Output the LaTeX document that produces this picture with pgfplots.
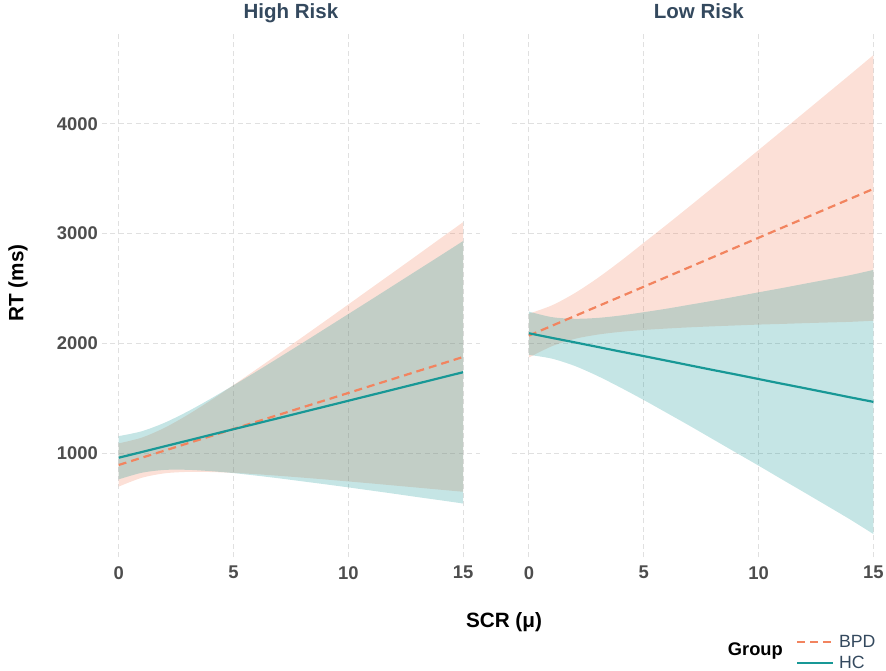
\documentclass[border=0pt]{standalone}
\usepackage{fontspec}
\setmainfont{Liberation Sans}
\usepackage{pgfplots}
\usepackage{pgfplotstable}
\pgfplotsset{compat=1.18}
\usepgfplotslibrary{fillbetween}

\definecolor{bpd}{RGB}{242,132,95}
\definecolor{hc}{RGB}{24,152,150}
\definecolor{titlecol}{RGB}{52,73,94}
\definecolor{tickcol}{RGB}{77,77,77}
\definecolor{gridcol}{RGB}{224,224,224}

% x  fit  lo  hi
\pgfplotstableread{
x  fit  lo   hi
0  891  694  1088
1  957  774  1140
2  1022 815  1230
3  1088 828  1347
4  1153 827  1479
5  1219 819  1619
6  1285 807  1763
7  1350 792  1909
8  1416 776  2056
9  1481 759  2204
10 1547 741  2353
11 1613 723  2503
12 1678 704  2652
13 1744 685  2802
14 1809 666  2953
15 1875 647  3103
}\highbpd
\pgfplotstableread{
x  fit  lo   hi
0  957  760  1154
1  1009 820  1198
2  1061 846  1276
3  1113 847  1378
4  1165 835  1494
5  1217 817  1617
6  1268 794  1743
7  1320 769  1872
8  1372 742  2002
9  1424 715  2134
10 1476 687  2266
11 1528 658  2398
12 1580 629  2531
13 1632 599  2664
14 1684 570  2797
15 1736 540  2931
}\highhc
\pgfplotstableread{
x  fit  lo   hi
0  2070 1870 2270
1  2159 1973 2345
2  2248 2040 2457
3  2337 2079 2595
4  2426 2104 2750
5  2515 2121 2915
6  2604 2134 3080
7  2694 2145 3248
8  2783 2154 3418
9  2872 2162 3588
10 2961 2170 3760
11 3050 2176 3932
12 3139 2183 4104
13 3228 2189 4277
14 3317 2195 4450
15 3406 2205 4625
}\lowbpd
\pgfplotstableread{
x  fit  lo   hi
0  2091 1894 2288
1  2049 1860 2238
2  2008 1793 2223
3  1966 1701 2231
4  1924 1595 2253
5  1883 1483 2283
6  1841 1366 2315
7  1799 1248 2351
8  1757 1127 2387
9  1716 1006 2425
10 1674 885  2464
11 1632 762  2502
12 1591 640  2542
13 1549 517  2581
14 1507 393  2621
15 1466 262  2668
}\lowhc

\pgfplotsset{
  panel/.style={
    scale only axis,
    height=524.7pt,
    ymin=50, ymax=4830,
    xmin=-0.75,
    xtick={0,5,10,15},
    xticklabels={0,5,10,15},
    ytick={1000,2000,3000,4000},
    scaled ticks=false,
    axis line style={draw=none},
    major tick length=0pt,
    grid=major,
    grid style={gridcol, line width=1pt, dash pattern=on 5pt off 3.5pt},
    tick label style={font=\bfseries\fontsize{18.4}{18.4}\selectfont, text=tickcol},
    xticklabel style={anchor=north, inner sep=0pt, yshift=-8.7pt},
    yticklabel style={anchor=east, inner sep=0pt, xshift=-3.5pt},
    title style={font=\bfseries\fontsize{20.5}{20.5}\selectfont, text=titlecol,
      anchor=base, at={(0.5,1)}, yshift=7.6pt, inner sep=0pt},
  },
  band/.style={draw=none, forget plot, smooth},
  bpdline/.style={bpd, line width=2.2pt, dash pattern=on 8pt off 5pt},
  hcline/.style={hc, line width=2.2pt},
}

\begin{document}
\begin{tikzpicture}

\begin{axis}[panel, at={(101.5pt,-557.3pt)}, anchor=south west,
  width=378.8pt, xmax=15.75,
  yticklabels={1000,2000,3000,4000},
  title={High Risk}]
\addplot[band, name path=bh] table[x=x, y=hi] {\highbpd};
\addplot[band, name path=bl] table[x=x, y=lo] {\highbpd};
\addplot[bpd, fill opacity=0.25, forget plot] fill between[of=bh and bl];
\addplot[band, name path=hh] table[x=x, y=hi] {\highhc};
\addplot[band, name path=hl] table[x=x, y=lo] {\highhc};
\addplot[hc, fill opacity=0.25, forget plot] fill between[of=hh and hl];
\addplot[bpdline] table[x=x, y=fit] {\highbpd};
\addplot[hcline] table[x=x, y=fit] {\highhc};
\end{axis}

\begin{axis}[panel, at={(511.7pt,-557.3pt)}, anchor=south west,
  width=374.3pt, xmax=15.55,
  yticklabels={},
  title={Low Risk},
  legend cell align=left,
  legend style={at={(0.7596,-0.1481)}, anchor=north west, draw=none, fill=none,
    inner sep=0pt, row sep=7.3pt,
    font=\fontsize{17.7}{17.7}\selectfont, text=titlecol,
    nodes={inner sep=0pt},
    /tikz/every odd column/.append style={column sep=4.7pt}},
  legend image code/.code={\draw[#1] (0pt,0pt) -- (36pt,0pt);}]
\addplot[band, name path=bh] table[x=x, y=hi] {\lowbpd};
\addplot[band, name path=bl] table[x=x, y=lo] {\lowbpd};
\addplot[bpd, fill opacity=0.25, forget plot] fill between[of=bh and bl];
\addplot[band, name path=hh] table[x=x, y=hi] {\lowhc};
\addplot[band, name path=hl] table[x=x, y=lo] {\lowhc};
\addplot[hc, fill opacity=0.25, forget plot] fill between[of=hh and hl];
\addplot[bpdline] table[x=x, y=fit] {\lowbpd};
\addlegendentry{BPD}
\addplot[hcline] table[x=x, y=fit] {\lowhc};
\addlegendentry{HC}
\end{axis}

\node[anchor=base, inner sep=0pt, font=\bfseries\fontsize{20.7}{20.7}\selectfont]
  at (504pt,-627.3pt) {SCR (μ)};
\node[rotate=90, inner sep=0pt, font=\bfseries\fontsize{20.7}{20.7}\selectfont]
  at (18pt,-283pt) {RT (ms)};
\node[anchor=base west, inner sep=0pt, font=\bfseries\fontsize{18.3}{18.3}\selectfont]
  at (727.7pt,-655pt) {Group};

\pgfresetboundingbox
\path[use as bounding box] (0,0) rectangle (886pt,-671pt);
\end{tikzpicture}
\end{document}
